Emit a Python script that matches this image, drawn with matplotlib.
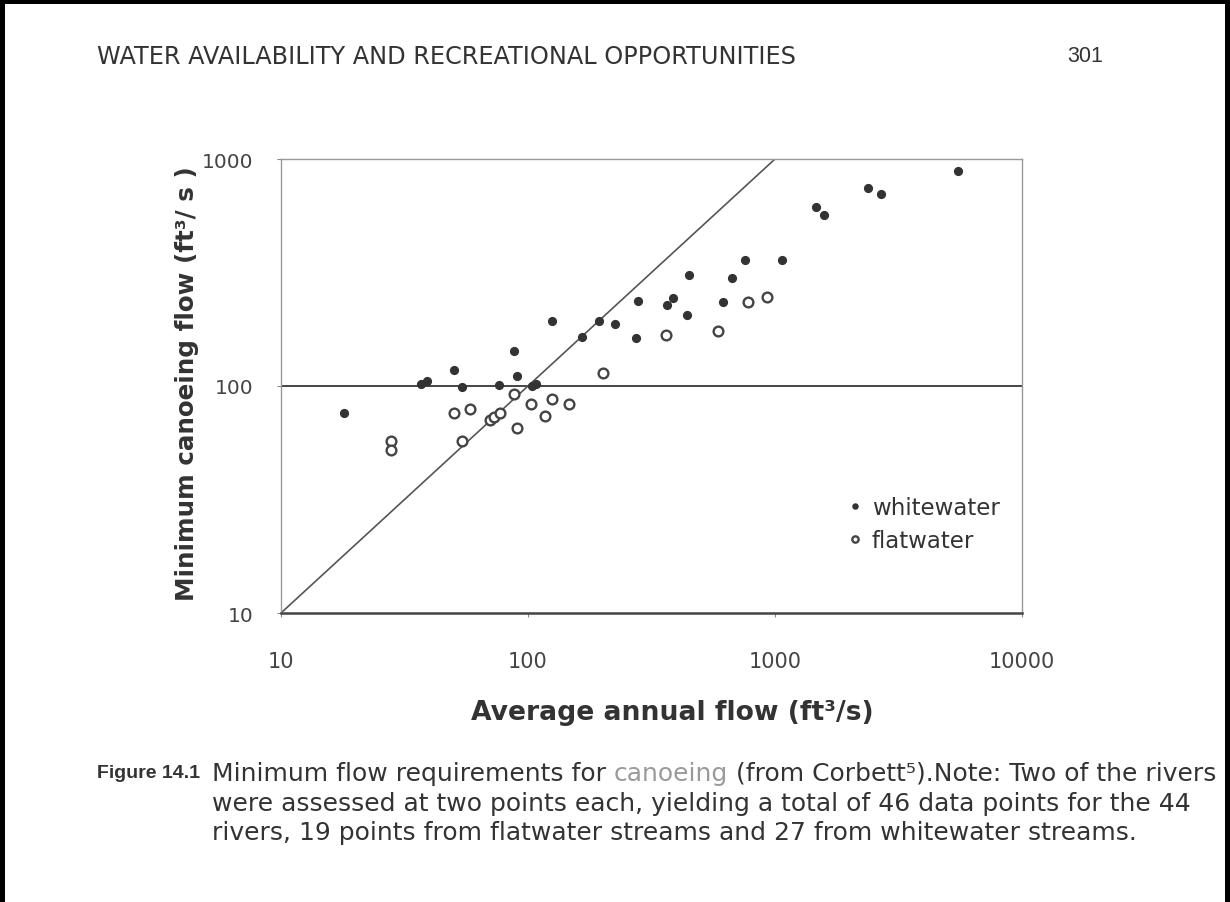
import matplotlib
matplotlib.use("Agg")
import matplotlib.pyplot as plt
from matplotlib.lines import Line2D

# ---- data ----
ww_x = [18, 37, 39, 50, 54, 76, 88, 90, 104, 108, 125, 165, 194, 226, 278, 274,
        364, 388, 449, 439, 618, 672, 756, 1071, 1461, 1583, 2386, 2680, 5492]
ww_y = [76, 102, 105, 118, 99, 101, 142, 111, 100, 102, 193, 164, 194, 188, 238, 162,
        227, 244, 308, 206, 234, 299, 359, 359, 613, 567, 743, 701, 883]
fw_x = [28, 28, 50, 54, 58, 70, 73, 77, 88, 90, 103, 117, 125, 147, 202, 362, 590, 780, 926]
fw_y = [57, 52, 76, 57, 79, 71, 73, 76, 92, 65, 83, 74, 88, 83, 114, 167, 175, 234, 247]
line_x = [10, 1000]
line_y = [10, 1000]
xticks = [10, 100, 1000, 10000]
yticks = [10, 100, 1000]
tick_labels_x = ["10", "100", "1000", "10000"]
tick_labels_y = ["10", "100", "1000"]

plt.rcParams['font.family'] = ['DejaVu Sans']

W, H = 1230, 903
fig = plt.figure(figsize=(W / 100, H / 100), dpi=100)
fig.patch.set_facecolor('white')

def fx(px):
    return px / W

def fy(py):
    return 1 - py / H

ax = fig.add_axes([fx(281), fy(614), fx(1022) - fx(281), fy(160) - fy(614)])
ax.set_xscale('log')
ax.set_yscale('log')
ax.set_xlim(10, 10000)
ax.set_ylim(10, 1000)

ax.axhline(100, color='#444444', lw=1.4, zorder=1)
ax.plot(line_x, line_y, color='#555555', lw=1.2, zorder=2)

ax.plot(ww_x, ww_y, linestyle='none', marker='o', markersize=5.6,
        markerfacecolor='#333333', markeredgecolor='#333333', zorder=3,
        label='whitewater')
ax.plot(fw_x, fw_y, linestyle='none', marker='o', markersize=7,
        markerfacecolor='white', markeredgecolor='#444444', markeredgewidth=1.7,
        zorder=3, label='flatwater')

ax.set_xticks(xticks)
ax.set_xticklabels(tick_labels_x)
ax.set_yticks(yticks)
ax.set_yticklabels(tick_labels_y)
ax.minorticks_off()
ax.tick_params(axis='x', direction='out', length=3, color='#888888', pad=24,
               labelsize=15, labelcolor='#444444')
ax.tick_params(axis='y', direction='out', length=3, color='#888888', pad=17,
               labelsize=14.5, labelcolor='#444444')

for side in ['top', 'left', 'right']:
    ax.spines[side].set_color('#999999')
    ax.spines[side].set_linewidth(1.0)
ax.spines['bottom'].set_color('#444444')
ax.spines['bottom'].set_linewidth(1.8)

leg = ax.legend(loc='upper left', bbox_to_anchor=((849 - 281) / 741, 1 - (497 - 160) / 454),
                frameon=False, fontsize=16.5, handlelength=0.5, handletextpad=0.5,
                borderpad=0, borderaxespad=0, labelspacing=0.42, markerscale=0.65)
for t in leg.get_texts():
    t.set_color('#333333')

# axis labels
fig.text(fx(672), fy(713), 'Average annual flow (ft³/s)', ha='center', va='center',
         fontsize=19.2, fontweight='bold', color='#333333')
fig.text(fx(187), fy(384), 'Minimum canoeing flow (ft³/ s )', ha='center', va='center',
         rotation=90, fontsize=17.7, fontweight='bold', color='#333333')

# header
fig.text(fx(97), fy(57), 'WATER AVAILABILITY AND RECREATIONAL OPPORTUNITIES',
         ha='left', va='center', fontsize=17.3, color='#333333')
fig.text(fx(1103), fy(57), '301', ha='right', va='center', fontsize=15.5,
         family=['Liberation Sans', 'DejaVu Sans'], color='#333333')

# caption
cap_fs = 18
fig.text(fx(97), fy(774), 'Figure 14.1', ha='left', va='center', fontsize=14,
         family=['Liberation Sans', 'DejaVu Sans'], fontweight='bold', color='#333333')
t1 = fig.text(fx(212), fy(774), 'Minimum flow requirements for ', ha='left', va='center',
              fontsize=cap_fs, color='#333333')
ann2 = ax.annotate('canoeing', xy=(1, 0), xycoords=t1, va='bottom', ha='left',
                   fontsize=cap_fs, color='#9a9a9a', annotation_clip=False)
ann3 = ax.annotate(' (from Corbett⁵).Note: Two of the rivers', xy=(1, 0), xycoords=ann2,
                   va='bottom', ha='left', fontsize=cap_fs, color='#333333',
                   annotation_clip=False)
fig.text(fx(212), fy(804), 'were assessed at two points each, yielding a total of 46 data points for the 44',
         ha='left', va='center', fontsize=cap_fs, color='#333333')
fig.text(fx(212), fy(833), 'rivers, 19 points from flatwater streams and 27 from whitewater streams.',
         ha='left', va='center', fontsize=cap_fs, color='#333333')

# page frame
for (xs, ys) in [([fx(2), fx(2)], [0, 1]), ([0, 1], [fy(2), fy(2)]), ([fx(1227), fx(1227)], [0, 1])]:
    fig.add_artist(Line2D(xs, ys, transform=fig.transFigure, color='black', lw=3.6))

fig.savefig('out.png', dpi=100)
